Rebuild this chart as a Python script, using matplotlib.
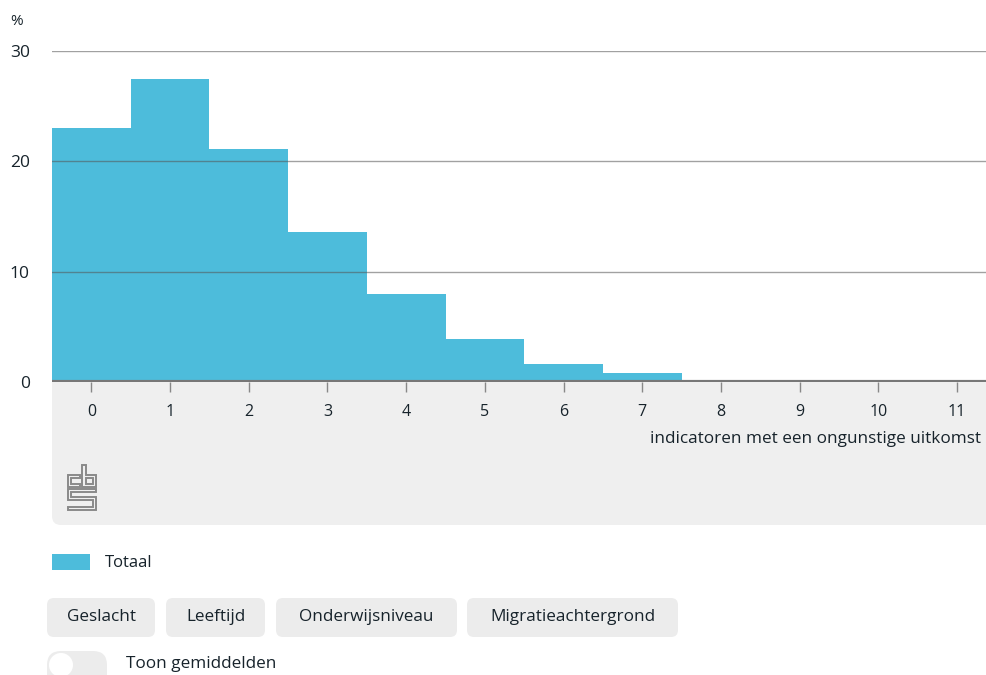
import numpy as np
import matplotlib.pyplot as plt
from matplotlib.patches import FancyBboxPatch, Rectangle, Circle, Polygon

plt.rcParams['font.family'] = ['Open Sans', 'DejaVu Sans']

# data
categories = list(range(12))
totaal = [23.0, 27.5, 21.1, 13.6, 8.0, 3.9, 1.6, 0.8, 0.1, 0.0, 0.0, 0.0]
y_ticks = [0, 10, 20, 30]
x_title = "indicatoren met een ongunstige uitkomst"
legend_label = "Totaal"
buttons = ["Geslacht", "Leeftijd", "Onderwijsniveau", "Migratieachtergrond"]
toggle_label = "Toon gemiddelden"

bar_color = "#4dbcdb"
text_color = "#17232b"
panel_color = "#efefef"

W, H = 987, 675
fig = plt.figure(figsize=(W / 100, H / 100), dpi=100)

# overlay in pixel coordinates for the non-chart stuff
bg = fig.add_axes([0, 0, 1, 1], zorder=-1)
bg.set_xlim(0, W)
bg.set_ylim(H, 0)
bg.axis("off")

# grey panel under the x axis
bg.add_patch(FancyBboxPatch((52, 360), 960, 165, boxstyle="round,pad=0,rounding_size=9",
                            fc=panel_color, ec="none"))

# cbs logo, rough outline
logo = [
    [(80, 475), (68, 475), (68, 487), (80, 487), (80, 484), (71, 484), (71, 478), (80, 478)],
    [(82, 465), (86, 465), (86, 475), (96, 475), (96, 487), (82, 487)],
    [(86, 478), (93, 478), (93, 484), (86, 484)],
    [(68, 489), (96, 489), (96, 492), (71, 492), (71, 497), (96, 497), (96, 510),
     (68, 510), (68, 507), (93, 507), (93, 500), (68, 500)],
]
for pts in logo:
    bg.add_patch(Polygon(pts, closed=True, fill=False, ec="#8a8a8a", lw=1.4,
                         joinstyle="miter"))

# legend
bg.add_patch(Rectangle((52, 554), 38, 16, fc=bar_color, ec="none"))
bg.text(105, 563, legend_label, fontsize=12, color=text_color, va="center", ha="left")

# buttons
btn_x = [47, 166, 276, 467]
btn_w = [108, 99, 181, 211]
for lab, bx, bw in zip(buttons, btn_x, btn_w):
    bg.add_patch(FancyBboxPatch((bx, 598), bw, 39, boxstyle="round,pad=0,rounding_size=7",
                                fc="#ececec", ec="none"))
    bg.text(bx + bw / 2, 617, lab, fontsize=12.3, color=text_color, ha="center", va="center")

# toggle
bg.add_patch(FancyBboxPatch((47, 651), 60, 40, boxstyle="round,pad=0,rounding_size=14",
                            fc="#ececec", ec="none"))
bg.add_patch(Circle((61, 665), 12, fc="white", ec="none"))
bg.text(126, 664, toggle_label, fontsize=12.3, color=text_color, ha="left", va="center")

# chart
ax = fig.add_axes([52 / W, 1 - 382 / H, 1 - 52 / W, (382 - 51) / H], zorder=1)
ax.bar(categories, totaal, width=1.0, color=bar_color, zorder=2)
ax.set_xlim(-0.5, 11.38)
ax.set_ylim(0, 30)
ax.set_yticks(y_ticks)
ax.set_xticks(categories)
for yv in y_ticks[1:]:
    ax.axhline(yv, color="#555555", lw=1, alpha=0.55, zorder=3)
ax.axhline(0, color="#777777", lw=3, zorder=4)

for s in ax.spines.values():
    s.set_visible(False)
ax.set_facecolor("white")
ax.tick_params(axis="y", length=0, pad=16, labelsize=12.5, labelcolor=text_color)
ax.tick_params(axis="x", length=7, width=1, color="#888888", direction="out", pad=9,
               labelsize=11.5, labelcolor=text_color)
for t in ax.get_yticklabels():
    t.set_horizontalalignment("right")

ax.text(-0.038, 1.09, "%", transform=ax.transAxes, fontsize=11, color=text_color,
        ha="center", va="center")
ax.text(0.994, -0.171, x_title, transform=ax.transAxes, fontsize=12.3, color=text_color,
        ha="right", va="center")

fig.savefig("out.png", dpi=100)
